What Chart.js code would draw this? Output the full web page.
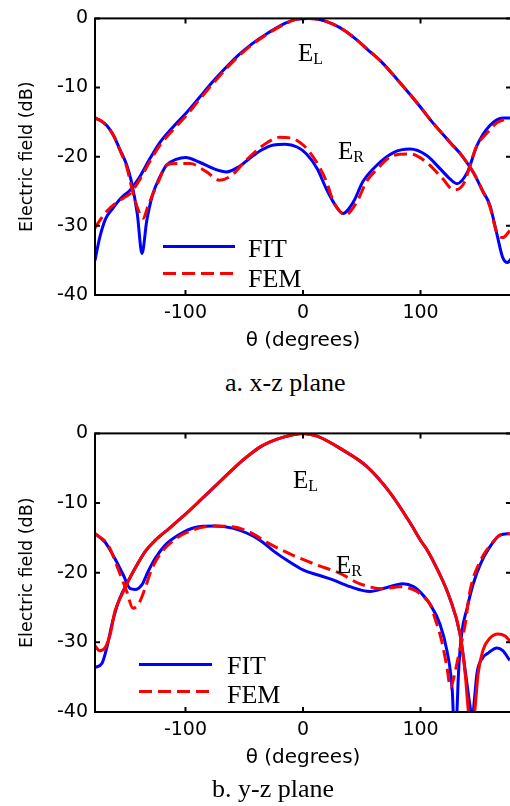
<!DOCTYPE html>
<html>
<head>
<meta charset="utf-8">
<script src="https://cdn.jsdelivr.net/npm/chart.js@4/dist/chart.umd.min.js"></script>
<style>
  html, body { margin: 0; padding: 0; background: #fff; overflow: hidden; }
  #page { position: relative; width: 510px; height: 806px; overflow: hidden; }
  canvas { position: absolute; left: 0; }
  .caption { position: absolute; font-family: "Liberation Serif", "Times New Roman", serif; font-size: 26px; line-height: 26px; white-space: nowrap; color: #000; }
</style>
</head>
<body>
<div id="page">
  <canvas id="chartA" width="512" height="360" style="top:0"></canvas>
  <div class="caption" style="left:225px;top:370px">a. x-z plane</div>
  <canvas id="chartB" width="512" height="362" style="top:415px"></canvas>
  <div class="caption" style="left:212px;top:776px">b. y-z plane</div>
</div>
<script>
// ---- a. x-z plane ----
const thetaAELFit = [-177, -173, -168, -162, -155, -147, -140, -130, -122, -110, -99, -88, -77, -65, -55, -45, -35, -25, -15, -5, 5, 15, 25, 35, 45, 55, 68, 80, 97, 110, 125, 135, 145, 153, 159, 165, 170, 174, 177];
const aELFit = [-35, -31.7, -29, -27.5, -26, -24.8, -23.2, -20.2, -18, -15.6, -13.6, -11.4, -9.2, -7, -5.3, -3.9, -2.7, -1.6, -0.7, -0.1, 0, -0.2, -0.8, -1.7, -3, -4.5, -6.5, -8.8, -12.2, -15, -17.9, -19.8, -22.3, -25, -27, -31.2, -34.6, -35.3, -34.8];

const thetaAELFem = [-177, -172, -167, -160, -153, -147, -140, -130, -122, -110, -99, -88, -77, -65, -55, -45, -35, -25, -15, -5, 5, 15, 25, 35, 45, 55, 68, 80, 97, 110, 125, 135, 145, 153, 159, 165, 170, 176];
const aELFem = [-30.3, -29, -27.9, -26.8, -26, -25.3, -23.6, -20.6, -18.4, -16, -14, -11.7, -9.5, -7.2, -5.5, -4, -2.8, -1.7, -0.8, -0.1, 0, -0.2, -0.8, -1.7, -3, -4.5, -6.5, -8.8, -12.2, -15, -17.9, -19.8, -22.3, -25, -27.2, -31, -31.7, -30.7];

const thetaAERFit = [-177, -172, -167, -161, -156, -150, -146, -141, -137, -133, -128, -122, -116, -108, -100, -88, -75, -65, -55, -45, -35, -25, -15, -5, 3, 12, 20, 29, 34, 43, 51, 63, 77, 91, 105, 117, 125, 131, 140, 148, 159, 170, 177];
const aERFit = [-14.4, -14.8, -15.5, -17, -18.9, -21.2, -23.6, -28.3, -34, -29.3, -25.5, -23, -21.2, -20.4, -20.1, -20.8, -21.8, -22.2, -21.5, -20.2, -19, -18.3, -18.2, -18.6, -19.6, -21.7, -24.7, -27.4, -28.2, -26.5, -23.6, -21.2, -19.4, -18.9, -19.8, -21.8, -23.2, -23.9, -22.2, -18.4, -15.5, -14.4, -14.4];

const thetaAERFem = [-177, -172, -167, -161, -156, -150, -145, -140, -136, -132, -128, -123, -116, -107, -96, -82, -71, -60, -50, -40, -30, -20, -10, 0, 6, 14, 20, 26, 36, 46, 54, 63, 77, 91, 105, 119, 128, 136, 148, 157, 165, 177];
const aERFem = [-14.4, -14.8, -15.5, -17, -19, -21.5, -25, -27.8, -28.9, -27.2, -25.5, -23.6, -21.2, -21, -21, -22.2, -23.4, -22.6, -20.8, -19.2, -17.9, -17.2, -17.3, -18.3, -19.4, -21.5, -23.6, -26.5, -28.4, -26.5, -23.6, -21.8, -19.8, -19.6, -20.8, -23.2, -24.8, -24.1, -18.4, -16.5, -15.1, -14.4];

// ---- b. y-z plane ----
const thetaBELFit = [-177, -171, -167, -162, -156, -149, -143, -134.5, -126, -115, -100, -88, -75, -65, -55, -45, -36, -28, -18, -8.5, 0, 12, 34, 54, 74, 91, 101, 105.5, 114, 125, 133.6, 138, 142, 144, 146, 148, 153, 157, 165, 170, 176];
const bELFit = [-33.6, -33, -30.8, -27, -23.7, -21.3, -19.4, -17, -15.4, -13.8, -11.6, -9.7, -7.6, -6, -4.4, -3, -1.9, -1.2, -0.6, -0.2, 0, -0.4, -2.4, -4.7, -8.5, -12.8, -15.6, -16.7, -19.4, -23.7, -28.8, -34, -39, -41, -38, -34.5, -32.2, -31.6, -30.8, -31.2, -32.6];

const thetaBELFem = [-177, -173, -168.5, -164, -160, -154, -149, -143, -134.5, -126, -115, -100, -88, -75, -65, -55, -45, -36, -28, -18, -8.5, 0, 12, 34, 54, 74, 91, 101, 105.5, 114, 125, 133.6, 138, 140.5, 142.5, 146, 149, 153, 159, 166, 172, 176];
const bELFem = [-30.5, -31.2, -30.8, -28.8, -25.5, -23.1, -21.3, -19.4, -17, -15.4, -13.8, -11.6, -9.7, -7.6, -6, -4.4, -3, -1.9, -1.2, -0.6, -0.2, 0, -0.4, -2.4, -4.7, -8.5, -12.8, -15.6, -16.7, -19.4, -23.7, -28.8, -34.5, -39.5, -42, -40, -34.5, -31.2, -29.4, -28.8, -29.1, -29.8];

const thetaBERFit = [-177, -168.5, -160, -153, -147, -143, -137, -132, -126, -117, -106, -92, -75, -60, -48, -36, -25, -12, 0, 12, 25, 40, 57, 70, 85, 94, 101, 108, 116.6, 122.5, 127, 129.3, 131, 132.3, 135, 139.6, 144.7, 150.6, 159, 167.7, 176];
const bERFit = [-14.4, -15.6, -18, -20.3, -22.3, -22.4, -21.7, -19.9, -18, -16, -14.6, -13.5, -13.3, -13.6, -14.3, -15.4, -16.9, -18.4, -19.6, -20.3, -21, -22, -22.7, -22.2, -21.6, -22, -23, -24.5, -27.4, -31.2, -36.9, -45, -40, -34.5, -28.8, -25.1, -21.7, -18.9, -16.3, -14.6, -14.4];

const thetaBERFem = [-177, -166, -157.5, -150, -144.7, -140, -134.5, -128.5, -120, -109, -94.5, -75, -60, -45, -28, -8.5, 12, 31.5, 48.5, 68, 82.5, 90, 97, 102, 108, 112, 118, 122.5, 125.5, 127.7, 132, 138, 142, 150.6, 161.7, 167.7, 176];
const bERFem = [-14.4, -16, -19.4, -22.7, -25.1, -24.5, -22.3, -19.4, -17, -15.2, -13.9, -13.3, -13.4, -14.2, -15.9, -17.5, -18.9, -20.1, -21.6, -22.3, -22, -22.2, -22.7, -23.4, -24.5, -26.4, -29.8, -33.6, -36.5, -35.5, -32.2, -27.4, -22.7, -18.4, -15.6, -14.6, -14.4];

const xTicks = [-100, 0, 100];
const yTicks = [0, -10, -20, -30, -40];
const legendLabels = ['FIT', 'FEM'];

const BLUE = '#0000ff';
const RED = '#ff0000';
const DASH = [13, 6];
const SANS = '"DejaVu Sans", sans-serif';
const SERIF = '"Liberation Serif", "Times New Roman", serif';

const pts = (th, v) => th.map((t, i) => ({ x: t, y: v[i] }));

const line = (data, color, dashed) => ({
  data,
  borderColor: color,
  borderWidth: 3,
  borderDash: dashed ? DASH : [],
  pointRadius: 0,
  fill: false,
  cubicInterpolationMode: 'monotone',
});

// box, inward ticks, legend and E_L / E_R labels
const framePlugin = {
  id: 'frame',
  afterDraw(chart, args, opts) {
    const { ctx, chartArea: a, scales: { x, y } } = chart;
    ctx.save();
    ctx.strokeStyle = '#000';
    ctx.lineWidth = 2;
    ctx.setLineDash([]);
    ctx.strokeRect(a.left, a.top, a.right - a.left, a.bottom - a.top);
    ctx.beginPath();
    xTicks.forEach((v) => {
      const px = x.getPixelForValue(v);
      ctx.moveTo(px, a.bottom); ctx.lineTo(px, a.bottom - 5);
      ctx.moveTo(px, a.top); ctx.lineTo(px, a.top + 5);
    });
    yTicks.forEach((v) => {
      const py = y.getPixelForValue(v);
      ctx.moveTo(a.left, py); ctx.lineTo(a.left + 5, py);
      ctx.moveTo(a.right, py); ctx.lineTo(a.right - 5, py);
    });
    ctx.stroke();

    // legend
    const lg = opts.legend;
    ctx.lineWidth = 3;
    ctx.strokeStyle = BLUE;
    ctx.beginPath();
    ctx.moveTo(a.left + lg.x0, a.top + lg.y0);
    ctx.lineTo(a.left + lg.x1, a.top + lg.y0);
    ctx.stroke();
    ctx.strokeStyle = RED;
    ctx.setLineDash(DASH);
    ctx.beginPath();
    ctx.moveTo(a.left + lg.x0, a.top + lg.y1);
    ctx.lineTo(a.left + lg.x1, a.top + lg.y1);
    ctx.stroke();
    ctx.setLineDash([]);
    ctx.fillStyle = '#000';
    ctx.font = '26px ' + SERIF;
    ctx.textBaseline = 'alphabetic';
    ctx.textAlign = 'left';
    ctx.fillText(legendLabels[0], a.left + lg.tx, a.top + lg.ty0);
    ctx.fillText(legendLabels[1], a.left + lg.tx, a.top + lg.ty1);

    // curve labels
    opts.labels.forEach((l) => {
      const px = x.getPixelForValue(l.x);
      const py = y.getPixelForValue(l.y);
      ctx.font = '25px ' + SERIF;
      ctx.fillText('E', px, py);
      const w = ctx.measureText('E').width;
      ctx.font = '16px ' + SERIF;
      ctx.fillText(l.sub, px + w, py + 3);
    });
    ctx.restore();
  },
};

function makeChart(id, datasets, padTop, legend, labels) {
  return new Chart(document.getElementById(id), {
    type: 'line',
    data: { datasets },
    options: {
      responsive: false,
      animation: false,
      devicePixelRatio: 1,
      layout: { padding: { top: padTop, right: 1, left: 0, bottom: 0 } },
      scales: {
        x: {
          type: 'linear',
          min: -177,
          max: 177,
          grid: { display: false, drawTicks: false },
          border: { display: false },
          ticks: {
            stepSize: 100,
            includeBounds: false,
            maxRotation: 0,
            padding: 7,
            color: '#000',
            font: { family: SANS, size: 19 },
          },
          title: {
            display: true,
            text: 'θ (degrees)',
            color: '#000',
            font: { family: SANS, size: 20 },
            padding: { top: 0, bottom: 7 },
          },
          afterFit: (s) => { s.height = 65; },
        },
        y: {
          min: -40,
          max: 0,
          grid: { display: false, drawTicks: false },
          border: { display: false },
          ticks: {
            stepSize: 10,
            padding: 7,
            color: '#000',
            font: { family: SANS, size: 19 },
          },
          title: {
            display: true,
            text: 'Electric field (dB)',
            color: '#000',
            font: { family: SANS, size: 17.5 },
            padding: { top: 17, bottom: 0 },
          },
          afterFit: (s) => { s.width = 95; },
        },
      },
      plugins: {
        legend: { display: false },
        tooltip: { enabled: false },
        frame: { legend, labels },
      },
    },
    plugins: [framePlugin],
  });
}

makeChart('chartA', [
  line(pts(thetaAELFem, aELFem), RED, true),
  line(pts(thetaAERFem, aERFem), RED, true),
  line(pts(thetaAELFit, aELFit), BLUE, false),
  line(pts(thetaAERFit, aERFit), BLUE, false),
], 14,
{ x0: 68, x1: 140, y0: 228, y1: 255, tx: 153, ty0: 239, ty1: 269 },
[{ x: -4.3, y: -6.1, sub: 'L' }, { x: 29.8, y: -20.4, sub: 'R' }]);

makeChart('chartB', [
  line(pts(thetaBELFem, bELFem), RED, false),
  line(pts(thetaBERFem, bERFem), RED, true),
  line(pts(thetaBELFit, bELFit), BLUE, false),
  line(pts(thetaBERFit, bERFit), BLUE, false),
], 15,
{ x0: 44, x1: 117, y0: 231, y1: 258, tx: 132, ty0: 241, ty1: 270 },
[{ x: -8.5, y: -7.9, sub: 'L' }, { x: 28.1, y: -20.1, sub: 'R' }]);
</script>
</body>
</html>
